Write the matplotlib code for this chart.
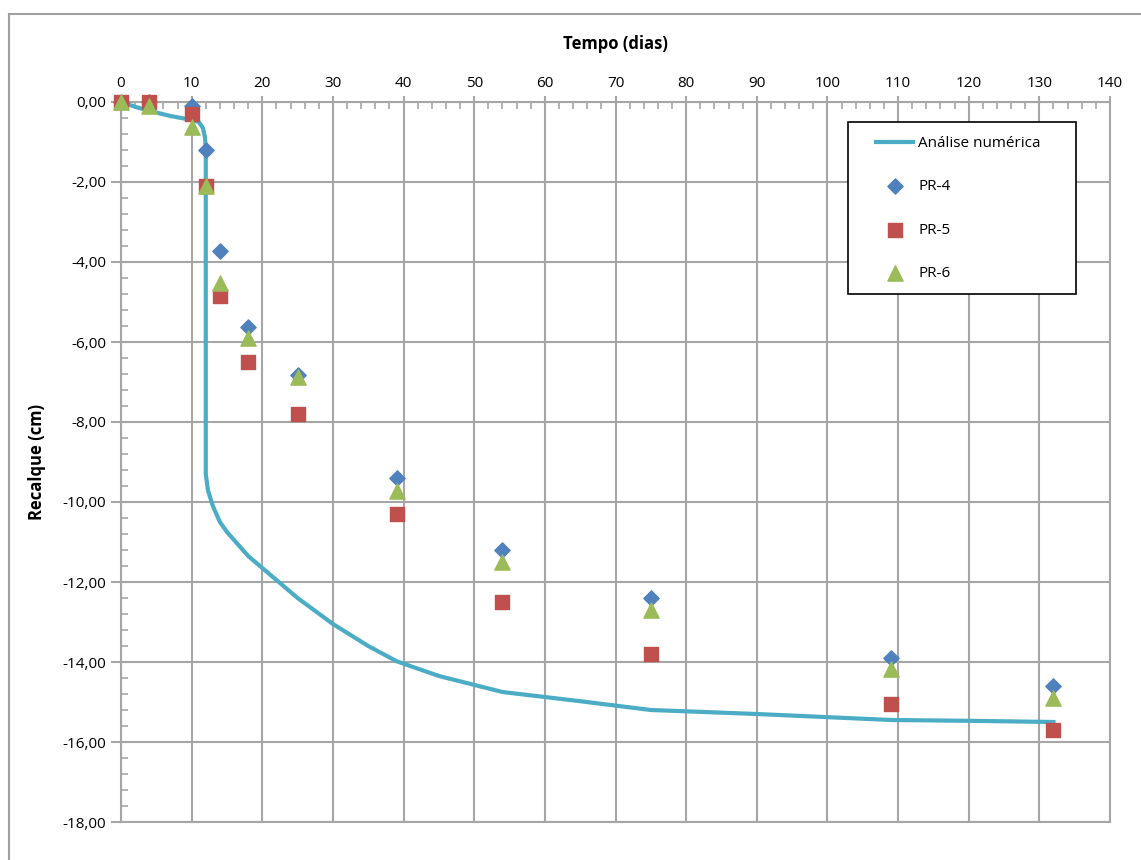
import matplotlib
matplotlib.use("Agg")
import matplotlib.pyplot as plt
from matplotlib.ticker import MultipleLocator, FuncFormatter
from matplotlib.patches import Rectangle
from matplotlib.lines import Line2D

plt.rcParams['font.family'] = ['Open Sans', 'DejaVu Sans']

# Numerical analysis curve
num_t = [0, 2, 4, 7, 10, 11, 11.6, 11.9, 12, 12, 12.3, 13, 14, 15, 16, 18, 21, 25, 30, 35, 39, 45, 54, 65, 75, 90, 109, 120, 132]
num_y = [0, -0.12, -0.22, -0.35, -0.45, -0.5, -0.65, -0.9, -1.2, -9.3, -9.7, -10.1, -10.5, -10.75, -10.95, -11.35, -11.8, -12.4, -13.05, -13.6, -13.98, -14.35, -14.75, -14.98, -15.2, -15.3, -15.45, -15.47, -15.5]

t_pts = [0, 4, 10, 12, 14, 18, 25, 39, 54, 75, 109, 132]
pr4 = [0.0, 0.0, -0.1, -1.2, -3.72, -5.62, -6.83, -9.4, -11.2, -12.4, -13.9, -14.6]
pr5 = [0.0, 0.0, -0.3, -2.1, -4.85, -6.5, -7.8, -10.3, -12.5, -13.8, -15.05, -15.7]
pr6 = [0.0, -0.1, -0.63, -2.1, -4.53, -5.9, -6.88, -9.73, -11.5, -12.7, -14.18, -14.9]

x_label = "Tempo (dias)"
y_label = "Recalque (cm)"
legend_labels = ["Análise numérica", "PR-4", "PR-5", "PR-6"]

W, H = 1141, 860
fig = plt.figure(figsize=(W/100, H/100), dpi=100)
ax = fig.add_axes([121/W, 1-822/H, (1110-121)/W, (822-102)/H])

grid_c = '#A6A6A6'
ax.plot(num_t, num_y, color='#4BACC6', lw=3, label=legend_labels[0], zorder=3, clip_on=False)
ax.scatter(t_pts, pr4, marker='D', s=60, color='#4F81BD', label=legend_labels[1], zorder=4, clip_on=False)
ax.scatter(t_pts, pr5, marker='s', s=110, color='#C0504D', label=legend_labels[2], zorder=5, clip_on=False)
ax.scatter(t_pts, pr6, marker='^', s=120, color='#9BBB59', label=legend_labels[3], zorder=6, clip_on=False)

ax.set_xlim(0, 140)
ax.set_ylim(-18, 0)
ax.xaxis.set_major_locator(MultipleLocator(10))
ax.xaxis.set_minor_locator(MultipleLocator(2))
ax.yaxis.set_major_locator(MultipleLocator(2))
ax.yaxis.set_minor_locator(MultipleLocator(0.4))
ax.yaxis.set_major_formatter(FuncFormatter(lambda v, p: f"{v:.2f}".replace('.', ',').replace('-0,00', '0,00')))
ax.xaxis.tick_top()
ax.xaxis.set_label_position('top')
ax.grid(True, which='major', color=grid_c, lw=1.5, zorder=0)
for s in ax.spines.values():
    s.set_color(grid_c)
    s.set_linewidth(1.5)
ax.tick_params(which='major', length=7, width=1.5, color=grid_c, labelsize=11, direction='out')
ax.tick_params(which='minor', length=5, width=1.2, color=grid_c, direction='in')
ax.tick_params(axis='x', which='major', length=4, pad=4)
ax.set_xlabel(x_label, fontsize=12, fontweight='bold', labelpad=19)
ax.set_ylabel(y_label, fontsize=12, fontweight='bold', labelpad=12)

# legend (entries), with frame drawn separately
fs = 11
fpx = fs * 100 / 72
leg = ax.legend(loc='upper left', bbox_to_anchor=((876-121)/989, 1-(136-102)/720),
                frameon=False, fontsize=fs,
                labelspacing=1.85, borderpad=0, handlelength=37/fpx, handletextpad=5/fpx,
                borderaxespad=0)
ax.add_patch(Rectangle(((848-121)/989, 1-(294-102)/720), (1076-848)/989, (294-122)/720,
                       transform=ax.transAxes, fill=True, facecolor='white',
                       edgecolor='black', lw=1.2, zorder=7))
leg.set_zorder(8)

fig.add_artist(Line2D([9/W, 9/W], [0, 1-14/H], color='#A0A0A0', lw=1.5))
fig.add_artist(Line2D([9/W, 1], [1-14/H, 1-14/H], color='#A0A0A0', lw=1.5))
fig.savefig('out.png', dpi=100)
